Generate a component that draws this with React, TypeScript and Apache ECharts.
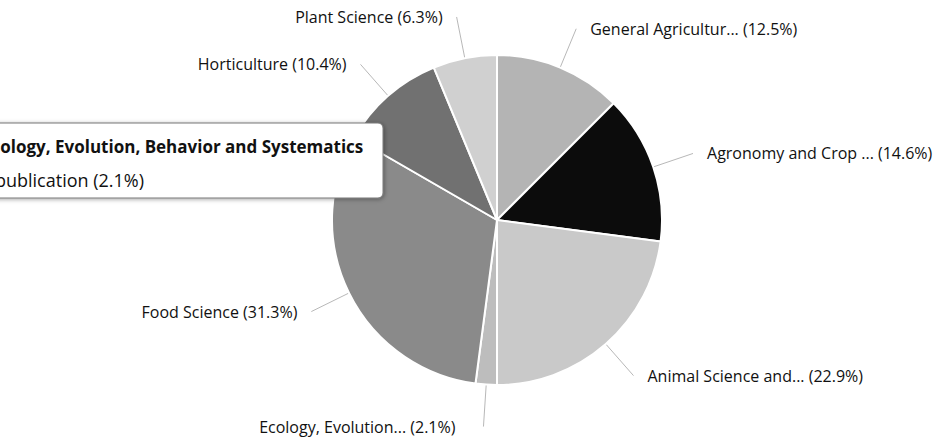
import React, { useEffect, useRef } from "react";
import * as echarts from "echarts";

const categories = [
  "General Agricultural and Biological Sciences",
  "Agronomy and Crop Science",
  "Animal Science and Zoology",
  "Ecology, Evolution, Behavior and Systematics",
  "Food Science",
  "Horticulture",
  "Plant Science",
];
const publications = [6, 7, 11, 1, 15, 5, 3];
const sliceColors = ["#b4b4b4", "#0c0c0c", "#c9c9c9", "#bdbdbd", "#8a8a8a", "#717171", "#d0d0d0"];
const tooltipTitle = "Ecology, Evolution, Behavior and Systematics";
const tooltipBody = "1 publication (2.1%)";

const total = publications.reduce((a, b) => a + b, 0);
const truncate = (s: string) => (s.length > 18 ? s.slice(0, 18) + "..." : s);

export default function App() {
  const ref = useRef<HTMLDivElement>(null);
  useEffect(() => {
    if (!ref.current) return;
    const chart = echarts.init(ref.current, undefined, { renderer: "svg" });
    chart.setOption({
      animation: false,
      series: [
        {
          type: "pie",
          center: [497, 220],
          radius: [0, 165],
          startAngle: 90,
          clockwise: true,
          avoidLabelOverlap: true,
          z: 2,
          itemStyle: { borderColor: "#ffffff", borderWidth: 2 },
          label: {
            show: true,
            position: "outside",
            fontFamily: "Open Sans",
            fontSize: 16,
            color: "#111",
            overflow: "none",
            distanceToLabelLine: 14,
            formatter: (p: any) =>
              `${truncate(p.name)} (${((p.value / total) * 100).toFixed(1)}%)`,
          },
          labelLine: {
            show: true,
            length: 42,
            length2: 0,
            lineStyle: { color: "#b8b8b8", width: 1 },
          },
          emphasis: { disabled: true },
          data: categories.map((name, i) => ({
            name,
            value: publications[i],
            itemStyle: { color: sliceColors[i] },
            label: i === 3 ? { distanceToLabelLine: 28 } : undefined,
          })),
        },
      ],
      graphic: [
        {
          type: "rect",
          z: 100,
          shape: { x: -30, y: 123, width: 413, height: 75, r: 5 },
          style: {
            fill: "#ffffff",
            stroke: "#777",
            lineWidth: 1,
            shadowBlur: 4,
            shadowColor: "rgba(0,0,0,0.35)",
            shadowOffsetX: 1,
            shadowOffsetY: 1,
          },
        },
        {
          type: "text",
          z: 101,
          x: -18,
          y: 146,
          style: {
            text: tooltipTitle,
            font: "bold 17px 'Open Sans'",
            fill: "#111",
            verticalAlign: "middle",
            align: "left",
          },
        },
        {
          type: "text",
          z: 101,
          x: -20,
          y: 180,
          style: {
            text: tooltipBody,
            font: "18px 'Open Sans'",
            fill: "#111",
            verticalAlign: "middle",
            align: "left",
          },
        },
      ],
    });
    return () => chart.dispose();
  }, []);
  return (
    <div
      ref={ref}
      style={{ position: "fixed", left: 0, top: 0, width: 939, height: 438, background: "#fff" }}
    />
  );
}
